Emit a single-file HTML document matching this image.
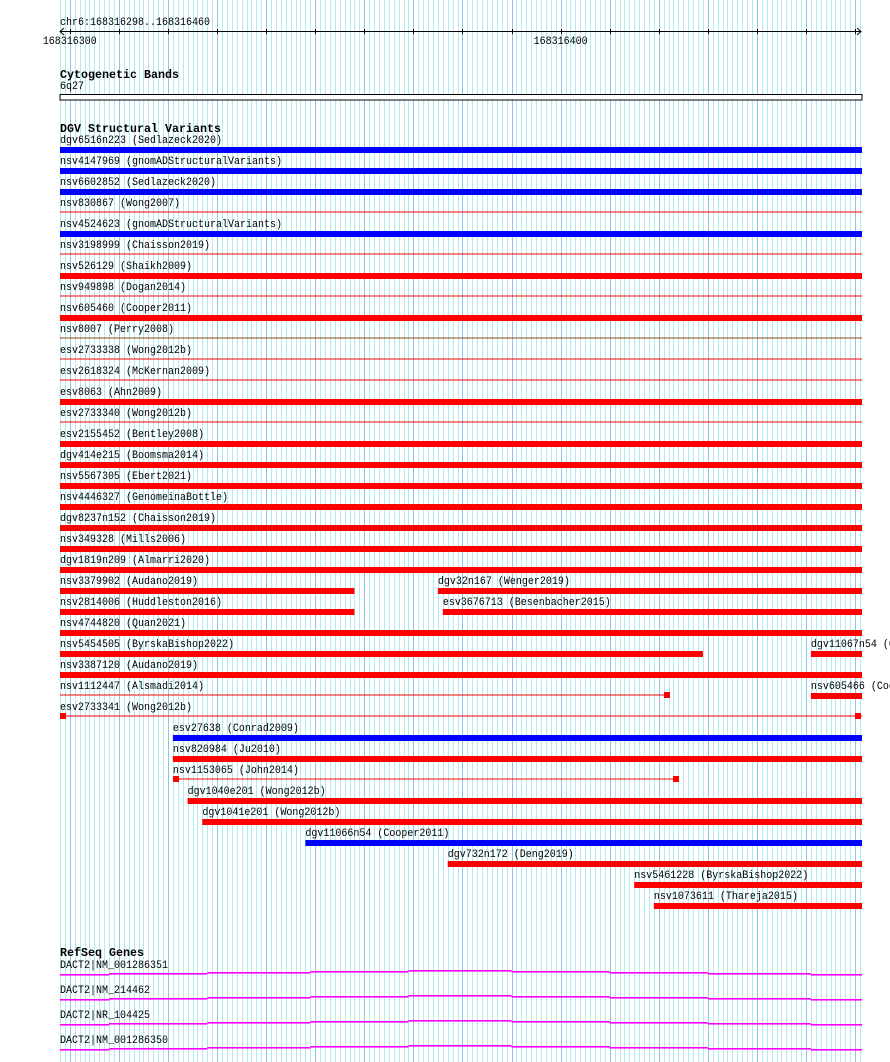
<!DOCTYPE html>
<html><head><meta charset="utf-8"><style>
html,body{margin:0;padding:0;background:#fff}
svg{display:block}
text{font-family:"Liberation Mono",monospace;font-size:11px;fill:#000}
.b{font-weight:bold;font-size:12px}
</style></head><body>
<svg id="c" width="890" height="1062" xmlns="http://www.w3.org/2000/svg">
<g id="grid"></g>
<g id="ruler"></g>
<g id="cyto"></g>
<g id="dgv"></g>
<g id="genes"></g>
</svg>
<script>
const viewStart = 168316298, viewEnd = 168316460;
const posBase = 168316000;
const tickValues = [168316300, 168316400];
const featNames = ["dgv6516n223 (Sedlazeck2020)","nsv4147969 (gnomADStructuralVariants)","nsv6602852 (Sedlazeck2020)","nsv830867 (Wong2007)","nsv4524623 (gnomADStructuralVariants)","nsv3198999 (Chaisson2019)","nsv526129 (Shaikh2009)","nsv949898 (Dogan2014)","nsv605460 (Cooper2011)","nsv8007 (Perry2008)","esv2733338 (Wong2012b)","esv2618324 (McKernan2009)","esv8063 (Ahn2009)","esv2733340 (Wong2012b)","esv2155452 (Bentley2008)","dgv414e215 (Boomsma2014)","nsv5567305 (Ebert2021)","nsv4446327 (GenomeinaBottle)","dgv8237n152 (Chaisson2019)","nsv349328 (Mills2006)","dgv1819n209 (Almarri2020)","nsv3379902 (Audano2019)","dgv32n167 (Wenger2019)","nsv2814006 (Huddleston2016)","esv3676713 (Besenbacher2015)","nsv4744820 (Quan2021)","nsv5454505 (ByrskaBishop2022)","dgv11067n54 (Cooper2011)","nsv3387120 (Audano2019)","nsv1112447 (Alsmadi2014)","nsv605466 (Cooper2011)","esv2733341 (Wong2012b)","esv27638 (Conrad2009)","nsv820984 (Ju2010)","nsv1153065 (John2014)","dgv1040e201 (Wong2012b)","dgv1041e201 (Wong2012b)","dgv11066n54 (Cooper2011)","dgv732n172 (Deng2019)","nsv5461228 (ByrskaBishop2022)","nsv1073611 (Thareja2015)"];
const featRows = [0,1,2,3,4,5,6,7,8,9,10,11,12,13,14,15,16,17,18,19,20,21,21,22,22,23,24,24,25,26,26,27,28,29,30,31,32,33,34,35,36];
const featStarts = [290,290,290,290,290,290,290,290,290,290,290,290,290,290,290,290,290,290,290,290,290,290,375,290,376,290,290,451,290,290,451,290,321,321,321,324,327,348,377,415,419];
const featEnds = [470,470,470,470,470,470,470,470,470,470,470,470,470,470,470,470,470,470,470,470,470,358,470,358,470,470,429,470,470,422,470,470,470,470,424,470,470,470,470,470,470];
const featKinds = ["thick","thick","thick","thin","thick","thin","thick","thin","thick","thin","thin","thin","thick","thin","thick","thick","thick","thick","thick","thick","thick","thick","thick","thick","thick","thick","thick","thick","thick","thin","thick","thin","thick","thick","thin","thick","thick","thick","thick","thick","thick"];
const featColors = ["blue","blue","blue","red","blue","red","red","red","red","brown","red","red","red","red","red","red","red","red","red","red","red","red","red","red","red","red","red","red","red","red","red","red","blue","red","red","red","red","blue","red","red","red"];
const blockBases = [[],[],[],[],[],[],[],[],[],[],[],[],[],[],[],[],[],[],[],[],[],[],[],[],[],[],[],[],[],[421],[],[298,460],[],[],[321,423],[],[],[],[],[],[]];
const geneNames = ["DACT2|NM_001286351","DACT2|NM_214462","DACT2|NR_104425","DACT2|NM_001286350"];
const exonBounds = [298,308,328,349,369,390,410,430,451,470];
const exonLevels = [0,1,2,3,4,3,2,1,0];

const NS="http://www.w3.org/2000/svg";
const L=60, R=860, pxPerBp=(R-L)/(viewEnd-viewStart+1);
function xs(bp){return L+(bp-viewStart)*pxPerBp;}
function xo(off){return xs(posBase+off);}
function clampX(x){return Math.max(L,Math.min(862,x));}
function mk(parent,tag,attrs,txt){const e=document.createElementNS(NS,tag);for(const k in attrs)e.setAttribute(k,attrs[k]);if(txt!==undefined)e.textContent=txt;parent.appendChild(e);return e;}
const colMap={blue:"#0000ff",red:"#ff0000",brown:"#8b4513"};

const grid=document.getElementById('grid');
for(let bp=viewStart;bp<=viewEnd+1;bp++){
  const x=Math.round(xs(bp))+0.5;
  const major=(bp%10===0);
  const ln=mk(grid,'line',{x1:x,x2:x,y1:0,y2:1062,stroke:major?"#8cc4ec":"#aeeaee","stroke-width":1});
  
  
}
const ruler=document.getElementById('ruler');
let t=mk(ruler,'text',{x:60,y:25,textLength:150,lengthAdjust:"spacingAndGlyphs"},"chr6:168316298..168316460");

mk(ruler,'line',{x1:60,x2:861,y1:31.5,y2:31.5,stroke:"#000"});
mk(ruler,'path',{d:"M64,28 L60,31.5 L64,35 M857,28 L861,31.5 L857,35",fill:"none",stroke:"#000"});
for(let bp=168316300;bp<=viewEnd;bp+=10){const x=Math.round(xs(bp))+0.5;mk(ruler,'line',{x1:x,x2:x,y1:29,y2:34,stroke:"#000"});}
tickValues.forEach(v=>{const tl=mk(ruler,'text',{x:xs(v)-27,y:44,textLength:54,lengthAdjust:"spacingAndGlyphs"},String(v));
 });
const cyto=document.getElementById('cyto');
t=mk(cyto,'text',{x:60,y:78,"class":"b",textLength:119,lengthAdjust:"spacingAndGlyphs"},"Cytogenetic Bands");

t=mk(cyto,'text',{x:60,y:89,textLength:24,lengthAdjust:"spacingAndGlyphs"},"6q27");

const band=mk(cyto,'rect',{x:60,y:94.5,width:802,height:5.5,fill:"#fff",stroke:"#000"});

const dgv=document.getElementById('dgv');
t=mk(dgv,'text',{x:60,y:132,"class":"b",textLength:161,lengthAdjust:"spacingAndGlyphs"},"DGV Structural Variants");

featNames.forEach((nm,i)=>{
  const row=featRows[i], x1=clampX(xo(featStarts[i])), x2=clampX(xo(featEnds[i])), c=colMap[featColors[i]];
  const g=mk(dgv,'g',{});
  
  
  const lbl=mk(g,'text',{x:x1,y:143+21*row,textLength:nm.length*6,lengthAdjust:"spacingAndGlyphs"},nm);
  
  if(featKinds[i]==="thick"){
    const r=mk(g,'rect',{x:x1,y:147+21*row,width:x2-x1,height:6,fill:c});
    
  } else {
    const r=mk(g,'rect',{x:x1,y:148.5+21*row,width:x2-x1,height:1,fill:c});
    
  }
  blockBases[i].forEach(b=>{
    const bx=xo(b);
    const s=mk(g,'rect',{x:Math.round(bx),y:146+21*row,width:6,height:6,fill:c});
    
  });
});
const genes=document.getElementById('genes');
t=mk(genes,'text',{x:60,y:956,"class":"b",textLength:84,lengthAdjust:"spacingAndGlyphs"},"RefSeq Genes");

geneNames.forEach((nm,i)=>{
  const base=975+25*i;
  const g=mk(genes,'g',{});
  
  
  const lbl=mk(g,'text',{x:60,y:968+25*i,textLength:nm.length*6,lengthAdjust:"spacingAndGlyphs"},nm);
  
  for(let k=0;k<exonLevels.length;k++){
    const x1=clampX(xo(exonBounds[k])), x2=clampX(xo(exonBounds[k+1]));
    const y=base-exonLevels[k];
    const s=mk(g,'rect',{x:x1,y:y-1,width:x2-x1,height:1.6,fill:"#ff00ff"});
    
  }
});
</script>
</body></html>
